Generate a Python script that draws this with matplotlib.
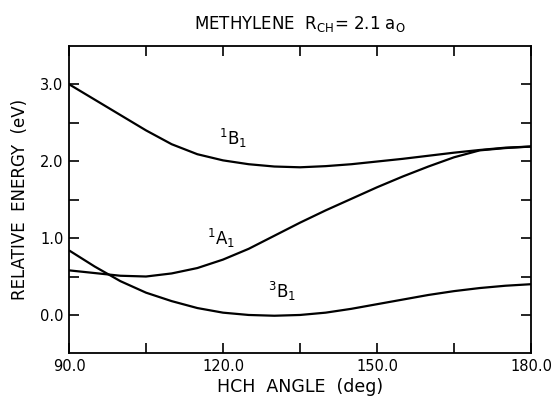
import numpy as np
import matplotlib.pyplot as plt
from matplotlib.ticker import FixedLocator, FuncFormatter

# Datos (angulo HCH en grados, energia relativa en eV)
angulo = np.array([90, 95, 100, 105, 110, 115, 120, 125, 130, 135,
                   140, 145, 150, 155, 160, 165, 170, 175, 180])
E_1B1 = np.array([3.00, 2.80, 2.60, 2.40, 2.22, 2.09, 2.01, 1.96, 1.93, 1.92,
                  1.935, 1.96, 1.995, 2.03, 2.07, 2.11, 2.145, 2.175, 2.19])
E_1A1 = np.array([0.58, 0.545, 0.51, 0.50, 0.54, 0.61, 0.72, 0.86, 1.03, 1.20,
                  1.36, 1.51, 1.66, 1.80, 1.93, 2.05, 2.14, 2.17, 2.19])
E_3B1 = np.array([0.84, 0.63, 0.44, 0.29, 0.18, 0.09, 0.03, 0.0, -0.01, 0.0,
                  0.03, 0.08, 0.14, 0.20, 0.26, 0.31, 0.35, 0.38, 0.40])

xticks = [90, 105, 120, 135, 150, 165, 180]
yticks = [0.0, 0.5, 1.0, 1.5, 2.0, 2.5, 3.0]

plt.rcParams['font.family'] = 'DejaVu Sans'
plt.rcParams['mathtext.fontset'] = 'dejavusans'

fig = plt.figure(figsize=(5.52, 3.98), dpi=100)
ax = fig.add_axes([0.125, 0.112, 0.837, 0.773])

for E in (E_1B1, E_1A1, E_3B1):
    ax.plot(angulo, E, color='black', lw=1.6, solid_capstyle='butt')

ax.set_xlim(90, 180)
ax.set_ylim(-0.5, 3.5)

ax.xaxis.set_major_locator(FixedLocator(xticks))
ax.yaxis.set_major_locator(FixedLocator(yticks))
ax.xaxis.set_major_formatter(FuncFormatter(lambda v, p: f"{v:.1f}" if v % 30 == 0 else ""))
ax.yaxis.set_major_formatter(FuncFormatter(lambda v, p: f"{v:.1f}" if v % 1 == 0 else ""))
ax.tick_params(direction='in', length=7, width=1.2, labelsize=10.5, top=True, right=True, pad=4)

for s in ax.spines.values():
    s.set_linewidth(1.3)

ax.text(122, 2.29, r'$^{\rm 1}$B$_{\rm 1}$', fontsize=12, ha='center', va='center')
ax.text(119.7, 1.0, r'$^{\rm 1}$A$_{\rm 1}$', fontsize=12, ha='center', va='center')
ax.text(131.4, 0.30, r'$^{\rm 3}$B$_{\rm 1}$', fontsize=12, ha='center', va='center')

ax.set_xlabel('HCH  ANGLE  (deg)', fontsize=12.5, labelpad=3)
ax.set_ylabel('RELATIVE  ENERGY  (eV)', fontsize=12, labelpad=8)
ax.set_title(r'METHYLENE  R$_{\rm CH}$= 2.1 a$_{\rm O}$', fontsize=12, pad=12)

fig.savefig('out.png', dpi=100)
